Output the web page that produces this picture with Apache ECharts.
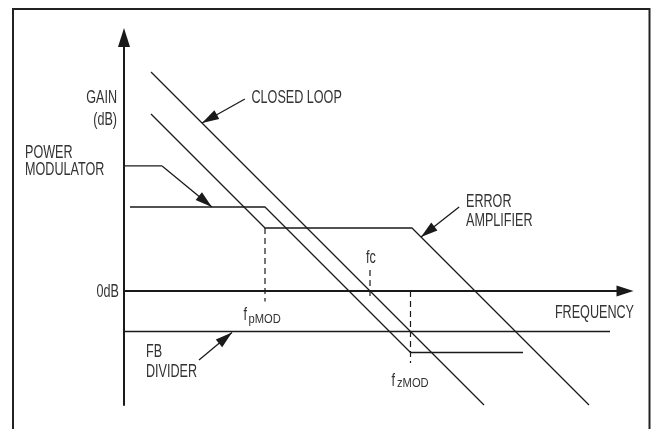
<!DOCTYPE html>
<html><head><meta charset="utf-8">
<script src="https://cdn.jsdelivr.net/npm/echarts@6/dist/echarts.min.js"></script>
<style>html,body{margin:0;padding:0;background:#fff}#c{width:652px;height:429px}</style>
</head><body><div id="c"></div>
<script>
// Schematic Bode plot. x = relative frequency position, y = gain (dB, schematic units)
const closedLoop      = [[9, 73], [120, -38]];
const errorAmplifier  = [[9, 59], [47, 21], [96, 21], [155, -38]];
const powerModulator  = [[2, 28], [47, 28], [95.5, -20.5], [133, -20.5]];
const fbDivider       = [[0, -13.5], [162, -13.5]];
const fpModMarker     = [[47, 21], [47, -3.5]];
const fcMarker        = [[82, 7], [82, -3]];
const fzModMarker     = [[95.5, 0], [95.5, -24]];
const powerModLeader  = [[-3.7, 41.7], [12.7, 41.7]];
const arrowLeaders = [
  { name: 'CLOSED LOOP',     coords: [[40.3, 64], [26, 56]] },
  { name: 'POWER MODULATOR', coords: [[12.7, 41.7], [29.3, 28]] },
  { name: 'ERROR AMPLIFIER', coords: [[111.7, 28], [99, 18]] },
  { name: 'FB DIVIDER',      coords: [[25, -23], [36, -13.8]] }
];
const xRange = [0, 167];
const yRange = [-38, 84.5];

const FONT = '"Liberation Sans", Arial, sans-serif';
const NARROW = 0.72;
const INK = '#1a1a1a';
const TXT = '#333';
const ARROW = [10, 17];

function plainLine(data, width, dashed) {
  return {
    type: 'line', data: data, symbol: 'none', showSymbol: false, clip: false, silent: true,
    animation: false,
    lineStyle: { color: INK, width: width, type: dashed ? [6, 4] : 'solid' }
  };
}
function arrowLine(a) {
  const p0 = a.coords[0], p1 = a.coords[1];
  // both axes use the same pixel scale, so the data direction is the screen direction
  const dx = p1[0] - p0[0], dy = p1[1] - p0[1];
  const len = Math.sqrt(dx * dx + dy * dy);
  const ux = dx / len, uy = dy / len;
  const ang = Math.atan2(dy, dx) * 180 / Math.PI;
  const h = ARROW[1] / 2;
  return {
    type: 'line', name: a.name, clip: false, silent: true, animation: false,
    showSymbol: true, showAllSymbol: true,
    itemStyle: { color: INK },
    lineStyle: { color: INK, width: 1.3 },
    data: [
      { value: p0, symbol: 'none' },
      { value: p1, symbol: 'triangle', symbolSize: ARROW, symbolRotate: ang - 90,
        symbolOffset: [-ux * h, uy * h] }
    ]
  };
}
function txt(text, x, y, align, size, narrow) {
  return { type: 'text', x: x, y: y, scaleX: narrow || NARROW, silent: true,
    style: { text: text, font: (size || 17.5) + 'px ' + FONT, fill: TXT, align: align || 'left', verticalAlign: 'middle' } };
}

const chart = echarts.init(document.getElementById('c'), null, { renderer: 'canvas' });
chart.setOption({
  animation: false,
  grid: { left: 124, right: 27, top: 37.5, bottom: 24 },
  xAxis: {
    type: 'value', min: xRange[0], max: xRange[1],
    axisLine: { onZero: true, lineStyle: { color: INK, width: 2 }, symbol: ['none', 'triangle'], symbolSize: [11, 17] },
    axisTick: { show: false }, axisLabel: { show: false }, splitLine: { show: false }
  },
  yAxis: {
    type: 'value', min: yRange[0], max: yRange[1],
    axisLine: { show: true, onZero: false, lineStyle: { color: INK, width: 2 }, symbol: ['none', 'triangle'], symbolSize: [12, 19] },
    axisTick: { show: false }, axisLabel: { show: false }, splitLine: { show: false }
  },
  series: [
    plainLine(closedLoop, 1.3),
    plainLine(errorAmplifier, 1.3),
    plainLine(powerModulator, 1.3),
    plainLine(fbDivider, 1.5),
    plainLine(fpModMarker, 1.2, true),
    plainLine(fcMarker, 1.2, true),
    plainLine(fzModMarker, 1.2, true),
    plainLine(powerModLeader, 1.3)
  ].concat(arrowLeaders.map(arrowLine)),
  graphic: [
    { type: 'rect', silent: true, shape: { x: 13, y: 9, width: 636.5, height: 440 },
      style: { fill: 'none', stroke: '#222', lineWidth: 2 } },
    txt('GAIN', 117, 98.5, 'right'),
    txt('(dB)', 117, 120, 'right'),
    txt('CLOSED LOOP', 251.5, 98.5),
    txt('POWER', 25, 153),
    txt('MODULATOR', 25, 170.5),
    txt('ERROR', 466, 202),
    txt('AMPLIFIER', 466, 221),
    txt('0dB', 119, 292, 'right'),
    txt('FREQUENCY', 634, 313, 'right'),
    txt('FB', 146, 352),
    txt('DIVIDER', 146, 372),
    txt('fc', 366, 258),
    txt('f', 243.5, 315.5),
    txt('pMOD', 248.5, 319.5, 'left', 13, 0.86),
    txt('f', 391.5, 381),
    txt('zMOD', 397, 383.5, 'left', 13, 0.86)
  ]
});
</script></body></html>
